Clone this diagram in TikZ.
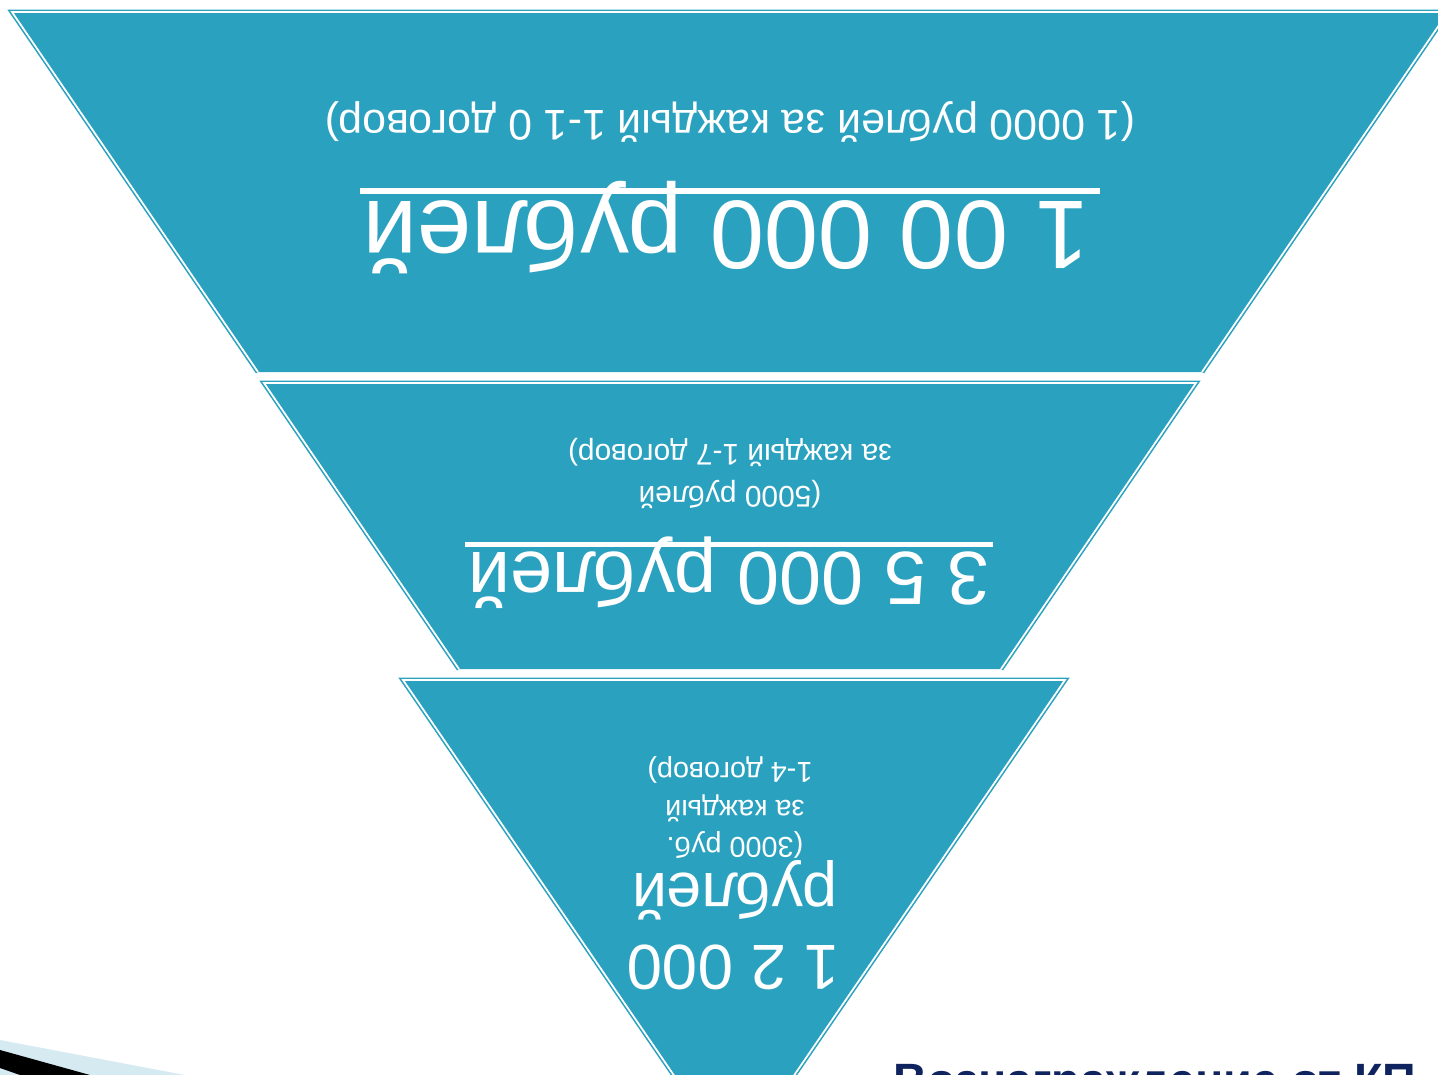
\documentclass[tikz,border=0pt]{standalone}
\usepackage{fontspec}
\setmainfont{Liberation Sans}
\definecolor{funnel}{RGB}{42,161,191}
\definecolor{navy}{RGB}{15,35,95}
\definecolor{swoosh}{RGB}{214,234,242}
\newcommand\fsz[1]{\fontsize{#1pt}{#1pt}\selectfont}

\begin{document}
\begin{tikzpicture}[x=0.02cm,y=-0.02cm]
\tikzset{Level/.style = {fill=funnel},
  Rim/.style = {draw=funnel, double=white, double distance=1pt, line width=0.9pt},
  Flip/.style = {rotate=180, anchor=base, text=white, inner sep=0pt}}
\useasboundingbox (0,0) rectangle (1438,1075);
\clip (0,0) rectangle (1438,1075);

% levels of the upside-down pyramid
\fill[Level] (12,12) -- (1448,12) -- (1202,372) -- (258,372) -- cycle;
\draw[Rim] (258,372) -- (12,12) -- (1448,12) -- (1202,372);
\fill[Level] (264,383) -- (1196,383) -- (1001,669) -- (459,669) -- cycle;
\draw[Rim] (459,669) -- (264,383) -- (1196,383) -- (1001,669);
\fill[Level] (403,680) -- (1065,680) -- (734,1163) -- cycle;
\draw[Rim] (734,1163) -- (403,680) -- (1065,680) -- (734,1163);

% top level
\node[Flip] (topsum) at (726,201) {\fsz{55.5}1 00 000 рублей};
\node[Flip] (topnote) at (730,110) {\fsz{24.4}(1 0000 рублей за каждый 1-1 0 договор)};
\fill[white] (360,188) rectangle (1100,194);

% middle level
\node[Flip] (midsum) at (729,552) {\fsz{43}3 5 000 рублей};
\node[Flip] (midnotea) at (730,486) {\fsz{17}(5000 рублей};
\node[Flip] (midnoteb) at (730,444) {\fsz{17}за каждый 1-7 договор)};
\fill[white] (465,542) rectangle (993,547);

% bottom level
\node[Flip] (botsum) at (733,945) {\fsz{36.2}1 2 000};
\node[Flip] (botunit) at (735,873) {\fsz{35.7}рублей};
\node[Flip] (botnotea) at (735,837) {\fsz{16.4}(3000 руб.};
\node[Flip] (botnoteb) at (735,800) {\fsz{16.4}за каждый};
\node[Flip] (botnotec) at (730,762) {\fsz{16.4}1-4 договор)};

% slide decoration
\fill[swoosh] (0,1040) -- (185,1075) -- (0,1075) -- cycle;
\fill[black] (0,1050) -- (90,1075) -- (20,1075) -- (0,1068) -- cycle;
\node[anchor=base west, inner sep=0pt, text=navy, font=\bfseries\fsz{26.6}] (title) at (893,1096) {Вознаграждение от КП};
\end{tikzpicture}
\end{document}
